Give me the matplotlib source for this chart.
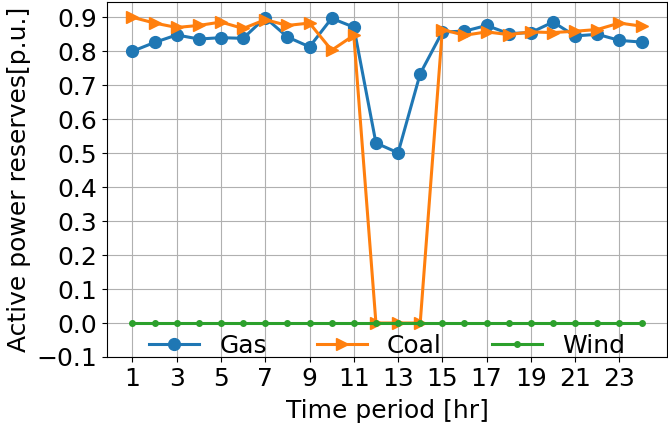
import matplotlib
matplotlib.use("Agg")
import matplotlib.pyplot as plt

hours = list(range(1, 25))
gas = [0.800, 0.826, 0.848, 0.836, 0.840, 0.838, 0.899, 0.842, 0.813, 0.897,
       0.871, 0.530, 0.501, 0.734, 0.857, 0.859, 0.876, 0.852, 0.855, 0.886,
       0.845, 0.850, 0.832, 0.827]
coal = [0.900, 0.883, 0.870, 0.876, 0.886, 0.867, 0.893, 0.876, 0.883, 0.803,
        0.847, 0.0, 0.0, 0.0, 0.864, 0.847, 0.857, 0.849, 0.857, 0.855,
        0.859, 0.864, 0.883, 0.874]
wind = [0.0] * 24
xticks = list(range(1, 24, 2))
yticks = [-0.1, 0.0, 0.1, 0.2, 0.3, 0.4, 0.5, 0.6, 0.7, 0.8, 0.9]

plt.rcParams['font.size'] = 18
fig, ax = plt.subplots(figsize=(6.68, 4.24), dpi=100)
fig.subplots_adjust(left=107/668, right=667/668, top=1-2/424, bottom=1-357/424)

ax.plot(hours, gas, marker='o', color='#1f77b4', lw=2.2, ms=8.5, label='Gas')
ax.plot(hours, coal, marker='>', color='#ff7f0e', lw=2.2, ms=8.5, label='Coal')
ax.plot(hours, wind, marker='.', color='#2ca02c', lw=2.2, ms=8, label='Wind')

ax.set_ylim(bottom=-0.1)
ax.set_xticks(xticks)
ax.set_yticks(yticks)
ax.grid(True)
ax.set_xlabel('Time period [hr]', labelpad=6)
ax.set_ylabel('Active power reserves[p.u.]')
ax.legend(loc='lower center', ncol=3, frameon=False, borderaxespad=0.0,
          bbox_to_anchor=(0.5, -0.03))

fig.savefig('out.png', dpi=100)
